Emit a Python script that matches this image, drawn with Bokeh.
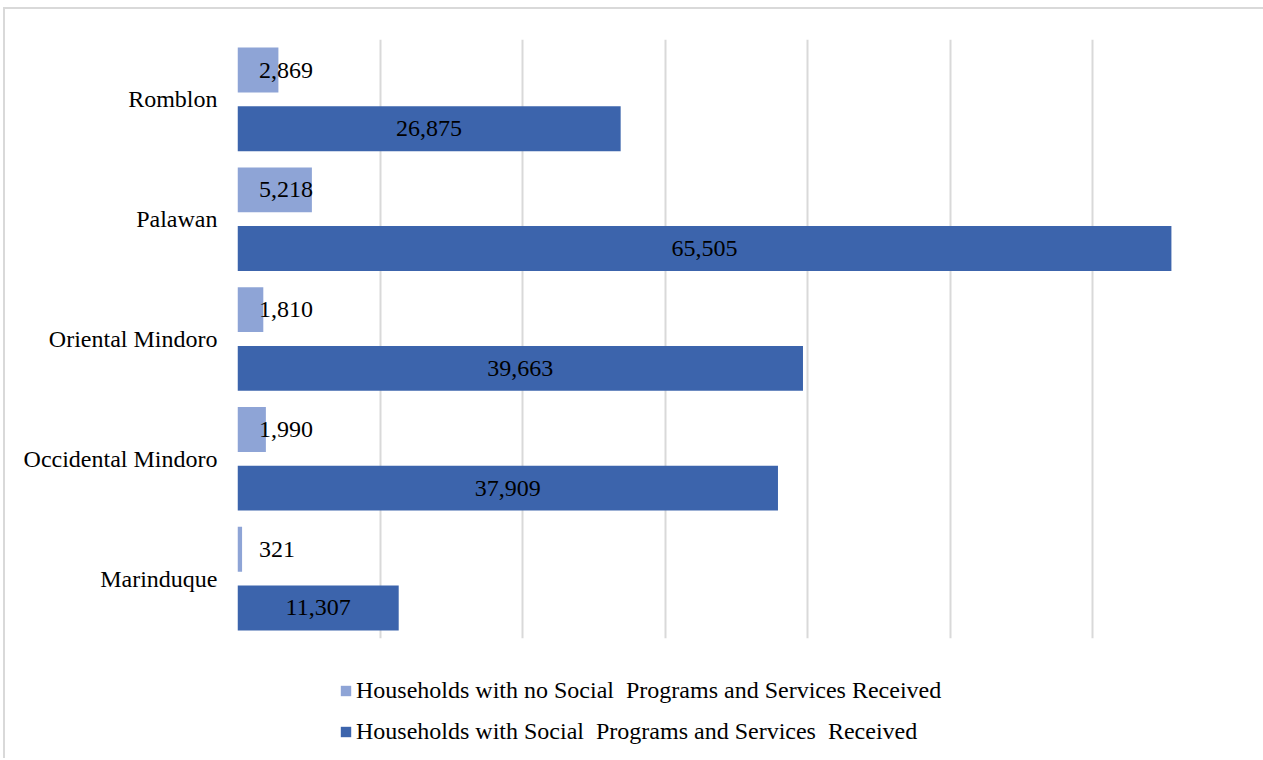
from bokeh.plotting import figure
from bokeh.layouts import column
from bokeh.models import ColumnDataSource, FactorRange, Legend, LegendItem
from bokeh.transform import dodge
from bokeh.core.properties import value
from bokeh.embed import file_html
from bokeh.resources import INLINE

provinces = ["Marinduque", "Occidental Mindoro", "Oriental Mindoro", "Palawan", "Romblon"]
no_programs = [321, 1990, 1810, 5218, 2869]
with_programs = [11307, 37909, 39663, 65505, 26875]
series_names = ["Households with no Social  Programs and Services Received",
                "Households with Social  Programs and Services  Received"]
x_ticks = [0, 10000, 20000, 30000, 40000, 50000, 60000, 70000]

LIGHT = "#8ea4d6"
DARK = "#3c64ac"
FONT = "Liberation Serif"
FS = "24px"

src = ColumnDataSource(dict(
    prov=provinces,
    no=no_programs,
    yes=with_programs,
    no_lbl=[f"{v:,}" for v in no_programs],
    yes_lbl=[f"{v:,}" for v in with_programs],
    yes_mid=[v / 2 for v in with_programs],
    no_lbl_x=[1500] * len(provinces),
))

p = figure(width=1258, height=639, y_range=FactorRange(factors=provinces, range_padding=0),
           x_range=(0, 70000), output_backend="svg", toolbar_location=None,
           min_border_left=232, min_border_right=28, min_border_top=30, min_border_bottom=10)

p.hbar(y=dodge("prov", 0.245, range=p.y_range), right="no", left=0, height=0.375,
       source=src, color=LIGHT, line_color=None)
p.hbar(y=dodge("prov", -0.245, range=p.y_range), right="yes", left=0, height=0.375,
       source=src, color=DARK, line_color=None)

p.text(x="no_lbl_x", y=dodge("prov", 0.245, range=p.y_range), text="no_lbl", source=src,
       text_font=value(FONT), text_font_size=FS, text_align="left", text_baseline="middle",
       text_color="#000000")
p.text(x="yes_mid", y=dodge("prov", -0.245, range=p.y_range), text="yes_lbl", source=src,
       text_font=value(FONT), text_font_size=FS, text_align="center", text_baseline="middle",
       text_color="#000000")

p.xaxis.ticker = x_ticks
p.xaxis.visible = False
p.xgrid.ticker = x_ticks
p.xgrid.grid_line_color = "#d9d9d9"
p.xgrid.grid_line_width = 2
p.ygrid.grid_line_color = None

p.yaxis.axis_line_color = None
p.yaxis.major_tick_line_color = None
p.yaxis.minor_tick_line_color = None
p.yaxis.major_label_standoff = 14
p.yaxis.major_label_text_font = FONT
p.yaxis.major_label_text_font_size = FS
p.yaxis.major_label_text_color = "#000000"

p.outline_line_color = None
p.border_fill_color = "white"
p.background_fill_color = "white"

# legend panel below the chart
lf = figure(width=1258, height=110, x_range=(0, 1), y_range=(0, 1),
            output_backend="svg", toolbar_location=None,
            min_border_left=232, min_border_right=28, min_border_top=0, min_border_bottom=0)
lf.axis.visible = False
lf.grid.visible = False
lf.outline_line_color = None
lr1 = lf.hbar(y=[0.5], right=[0], left=0, height=0.1, color=LIGHT, line_color=None)
lr2 = lf.hbar(y=[0.5], right=[0], left=0, height=0.1, color=DARK, line_color=None)
legend = Legend(items=[LegendItem(label=series_names[0], renderers=[lr1]),
                       LegendItem(label=series_names[1], renderers=[lr2])],
                orientation="vertical", location=(102, 13),
                label_text_font=FONT, label_text_font_size=FS, label_text_color="#000000",
                glyph_width=13, glyph_height=13, label_standoff=4, spacing=14,
                border_line_color=None, background_fill_alpha=0, padding=0, margin=0)
lf.add_layout(legend, "center")

layout = column(p, lf, spacing=0,
                styles={"border-left": "2px solid #d9d9d9", "border-top": "2px solid #d9d9d9",
                        "border-right": "2px solid #d9d9d9", "margin-left": "3px",
                        "margin-top": "7px"})
open("out.html", "w").write(file_html(layout, INLINE))
